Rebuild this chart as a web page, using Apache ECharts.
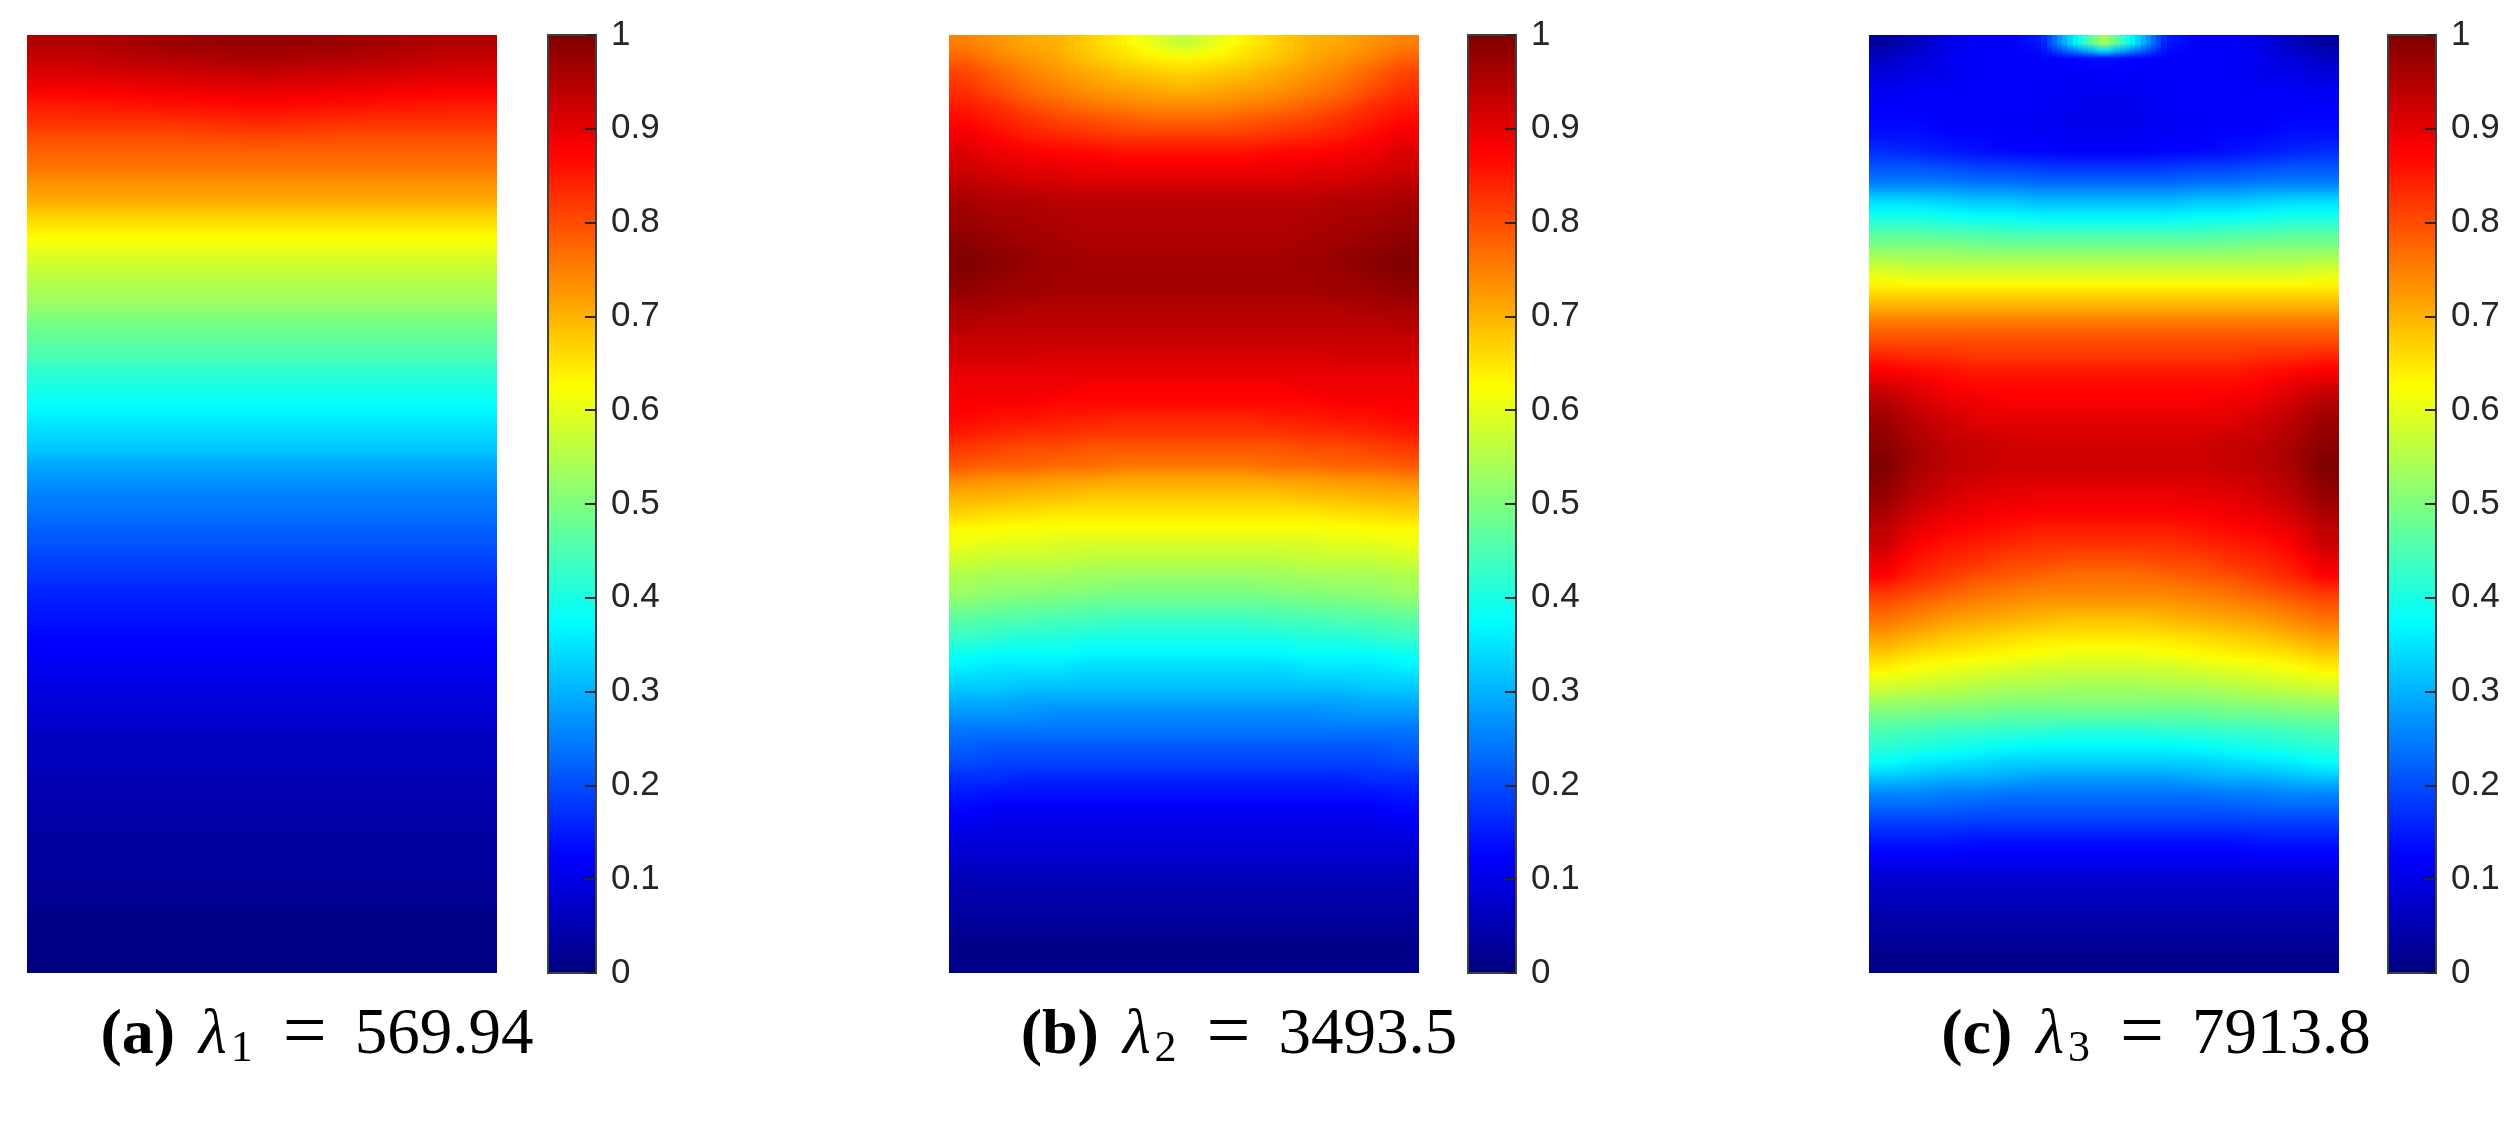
<!DOCTYPE html>
<html>
<head>
<meta charset="utf-8">
<title>Eigenmodes</title>
<style>
  html, body { margin: 0; padding: 0; background: #fff; }
  #chart { width: 2518px; height: 1131px; }
</style>
<script src="https://cdn.jsdelivr.net/npm/echarts@6/dist/echarts.min.js"></script>
</head>
<body>
<div id="chart"></div>
<script>
  // field values in percent of the max, row 0 is the top of the panel
  var modeA = [
    [95,97,98,97,95],[93,95,96,95,93],[91,92,93,92,91],[88,89,90,89,88],[85,86,87,86,85],
    [83,83,84,83,83],[80,80,81,80,80],[78,78,78,78,78],[76,76,76,76,76],[73,73,73,73,73],
    [71,71,71,71,71],[67,67,67,67,67],[64,64,64,64,64],[61,61,61,61,61],[58,58,58,58,58],
    [56,56,56,56,56],[54,54,54,54,54],[52,52,52,52,52],[49,49,49,49,49],[47,47,47,47,47],
    [45,45,45,45,45],[42,42,42,42,42],[40,40,40,40,40],[38,38,38,38,38],[36,36,36,36,36],
    [34,34,34,34,34],[32,32,32,32,32],[29,29,29,29,29],[27,27,27,27,27],[25,25,25,25,25],
    [24,24,24,24,24],[22,22,22,22,22],[21,21,21,21,21],[19,19,19,19,19],[18,18,18,18,18],
    [16,16,16,16,16],[15,15,15,15,15],[14,14,14,14,14],[13,13,13,13,13],[12,12,12,12,12],
    [11,11,11,11,11],[10,10,10,10,10],[9,9,9,9,9],[8,8,8,8,8],[7,7,7,7,7],
    [6,6,6,6,6],[6,6,6,6,6],[5,5,5,5,5],[5,5,5,5,5],[4,4,4,4,4],
    [4,4,4,4,4],[3,3,3,3,3],[3,3,3,3,3],[3,3,3,3,3],[2,2,2,2,2],
    [2,2,2,2,2],[1,1,1,1,1],[1,1,1,1,1],[1,1,1,1,1],[0,0,0,0,0]
  ];
  var modeB = [
    [75,73,71,70,67,64,60,56,60,64,67,70,71,73,75],
    [78,75,73,71,68,66,64,63,64,66,68,71,73,75,78],
    [81,78,75,73,71,69,68,67,68,69,71,73,75,78,81],
    [83,80,77,75,73,72,71,70,71,72,73,75,77,80,83],
    [85,83,80,78,76,75,74,74,74,75,76,78,80,83,85],
    [87,85,83,81,80,79,78,78,78,79,80,81,83,85,87],
    [89,87,85,84,83,82,82,82,82,82,83,84,85,87,89],
    [91,89,88,87,87,86,86,86,86,86,87,87,88,89,91],
    [92,91,90,90,89,89,89,89,89,89,89,90,90,91,92],
    [94,93,92,92,91,91,91,91,91,91,91,92,92,93,94],
    [96,95,95,94,94,94,94,94,94,94,94,94,95,95,96],
    [97,96,96,95,95,95,95,95,95,95,95,95,96,96,97],
    [98,97,96,96,95,95,95,95,95,95,95,96,96,97,98],
    [99,98,97,96,96,96,96,96,96,96,96,96,97,98,99],
    [100,99,98,97,96,96,96,96,96,96,96,97,98,99,100],
    [99,98,97,97,97,97,97,97,97,97,97,97,97,98,99],
    [98,97,97,96,96,96,96,96,96,96,96,96,97,97,98],
    [96,96,95,95,95,95,95,95,95,95,95,95,95,96,96],
    [95,94,94,94,94,94,94,94,94,94,94,94,94,94,95],
    [93,93,93,93,93,93,93,93,93,93,93,93,93,93,93],
    [92,92,92,91,91,91,91,91,91,91,91,91,92,92,92],
    [90,90,90,90,90,90,90,90,90,90,90,90,90,90,90],
    [89,89,89,89,88,88,88,88,88,88,88,89,89,89,89],
    [88,88,88,87,87,87,87,87,87,87,87,87,88,88,88],
    [87,86,86,85,85,84,84,84,84,84,85,85,86,86,87],
    [85,84,83,83,82,82,82,82,82,82,82,83,83,84,85],
    [82,81,80,80,79,79,79,79,79,79,79,80,80,81,82],
    [79,78,78,77,77,76,76,76,76,76,77,77,78,78,79],
    [74,73,73,72,72,71,71,71,71,71,72,72,73,73,74],
    [70,70,69,69,68,68,68,68,68,68,68,69,69,70,70],
    [67,66,66,65,65,65,65,65,65,65,65,65,66,66,67],
    [63,63,62,62,62,62,62,62,62,62,62,62,62,63,63],
    [61,60,60,59,59,59,59,59,59,59,59,59,60,60,61],
    [58,57,57,57,56,56,56,56,56,56,56,57,57,57,58],
    [55,54,54,54,53,53,53,53,53,53,53,54,54,54,55],
    [53,52,52,51,51,50,50,50,50,50,51,51,52,52,53],
    [50,49,48,48,47,47,47,47,47,47,47,48,48,49,50],
    [46,45,45,44,44,43,43,43,43,43,44,44,45,45,46],
    [43,42,41,41,40,40,40,40,40,40,40,41,41,42,43],
    [39,38,38,38,37,37,37,37,37,37,37,38,38,38,39],
    [36,35,35,35,34,34,34,34,34,34,34,35,35,35,36],
    [33,33,32,32,32,32,32,32,32,32,32,32,32,33,33],
    [30,30,29,29,29,29,29,29,29,29,29,29,29,30,30],
    [27,27,27,26,26,26,26,26,26,26,26,26,27,27,27],
    [24,24,24,24,24,24,24,24,24,24,24,24,24,24,24],
    [22,21,21,21,21,21,21,21,21,21,21,21,21,21,22],
    [20,19,19,19,19,19,19,19,19,19,19,19,19,19,20],
    [17,17,16,16,16,16,16,16,16,16,16,16,16,17,17],
    [15,14,14,14,14,14,14,14,14,14,14,14,14,14,15],
    [13,12,12,12,12,12,12,12,12,12,12,12,12,12,13],
    [11,10,10,10,10,10,10,10,10,10,10,10,10,10,11],
    [9,9,9,9,9,9,9,9,9,9,9,9,9,9,9],
    [8,8,8,8,8,8,8,8,8,8,8,8,8,8,8],
    [6,6,6,6,6,6,6,6,6,6,6,6,6,6,6],
    [5,5,5,5,5,5,5,5,5,5,5,5,5,5,5],
    [4,4,4,4,4,4,4,4,4,4,4,4,4,4,4],
    [3,3,3,3,3,3,3,3,3,3,3,3,3,3,3],
    [2,2,2,2,2,2,2,2,2,2,2,2,2,2,2],
    [1,1,1,1,1,1,1,1,1,1,1,1,1,1,1],
    [1,1,1,1,1,1,1,1,1,1,1,1,1,1,1]
  ];
  var modeC = [
    [3,6,10,12,12,15,35,55,35,15,12,12,10,6,3],
    [7,9,11,12,12,12,13,14,13,12,12,12,11,9,7],
    [9,10,11,12,12,12,12,12,12,12,12,12,11,10,9],
    [11,12,12,12,12,12,11,11,11,12,12,12,12,12,11],
    [12,12,12,12,12,12,11,11,11,12,12,12,12,12,12],
    [13,13,12,12,12,11,11,11,11,11,12,12,12,13,13],
    [14,14,13,13,12,12,11,11,11,12,12,13,13,14,14],
    [17,16,15,14,13,13,12,12,12,13,13,14,15,16,17],
    [21,21,20,19,19,18,18,18,18,18,19,19,20,21,21],
    [25,25,25,24,24,23,23,23,23,23,24,24,25,25,25],
    [33,33,32,31,31,30,30,30,30,30,31,31,32,33,33],
    [39,39,38,37,37,36,36,36,36,36,37,37,38,39,39],
    [45,45,44,44,43,43,43,43,43,43,43,44,44,45,45],
    [50,50,50,49,49,49,49,49,49,49,49,49,50,50,50],
    [56,55,55,55,55,55,55,55,55,55,55,55,55,55,56],
    [61,60,60,60,60,60,60,60,60,60,60,60,60,60,61],
    [66,66,66,66,66,66,66,66,66,66,66,66,66,66,66],
    [71,71,71,71,71,71,71,71,71,71,71,71,71,71,71],
    [76,76,76,76,76,76,76,76,76,76,76,76,76,76,76],
    [80,80,80,80,80,80,80,80,80,80,80,80,80,80,80],
    [84,83,83,82,82,82,82,82,82,82,82,82,83,83,84],
    [88,87,86,85,85,85,85,85,85,85,85,85,86,87,88],
    [92,90,88,87,87,87,87,87,87,87,87,87,88,90,92],
    [95,92,90,89,88,88,88,88,88,88,88,89,90,92,95],
    [97,94,92,90,90,90,90,90,90,90,90,90,92,94,97],
    [98,95,93,92,91,91,91,91,91,91,91,92,93,95,98],
    [99,96,94,93,92,92,92,92,92,92,92,93,94,96,99],
    [100,96,94,93,92,92,92,92,92,92,92,93,94,96,100],
    [99,95,93,92,91,91,91,91,91,91,91,92,93,95,99],
    [98,94,92,90,90,89,89,89,89,89,90,90,92,94,98],
    [96,92,90,89,88,88,88,88,88,88,88,89,90,92,96],
    [94,90,88,87,86,85,85,85,85,85,86,87,88,90,94],
    [93,88,86,85,84,83,83,83,83,83,84,85,86,88,93],
    [90,86,84,83,81,81,80,80,80,81,81,83,84,86,90],
    [88,84,82,80,79,78,77,77,77,78,79,80,82,84,88],
    [83,81,79,77,76,75,75,75,75,75,76,77,79,81,83],
    [79,77,75,74,73,72,72,72,72,72,73,74,75,77,79],
    [76,74,72,71,70,69,68,68,68,69,70,71,72,74,76],
    [72,70,68,67,66,65,65,65,65,65,66,67,68,70,72],
    [68,66,65,64,63,62,61,61,61,62,63,64,65,66,68],
    [64,62,61,60,59,58,58,58,58,58,59,60,61,62,64],
    [59,58,57,56,55,55,54,54,54,55,55,56,57,58,59],
    [54,53,53,52,51,51,51,51,51,51,51,52,53,53,54],
    [49,49,48,48,47,47,47,47,47,47,47,48,48,49,49],
    [45,44,43,43,42,42,41,41,41,42,42,43,43,44,45],
    [42,41,40,39,38,37,37,37,37,37,38,39,40,41,42],
    [38,36,35,34,33,33,33,33,33,33,33,34,35,36,38],
    [32,31,30,30,29,28,28,28,28,28,29,30,30,31,32],
    [26,26,25,25,24,24,24,24,24,24,24,25,25,26,26],
    [22,22,22,21,21,21,21,21,21,21,21,21,22,22,22],
    [18,18,18,18,18,18,18,18,18,18,18,18,18,18,18],
    [15,15,15,14,14,14,14,14,14,14,14,14,15,15,15],
    [12,12,12,12,12,12,12,12,12,12,12,12,12,12,12],
    [9,9,9,9,9,9,9,9,9,9,9,9,9,9,9],
    [7,7,7,7,7,7,7,7,7,7,7,7,7,7,7],
    [6,6,6,6,6,6,6,6,6,6,6,6,6,6,6],
    [4,4,4,4,4,4,4,4,4,4,4,4,4,4,4],
    [3,3,3,3,3,3,3,3,3,3,3,3,3,3,3],
    [2,2,2,2,2,2,2,2,2,2,2,2,2,2,2],
    [1,1,1,1,1,1,1,1,1,1,1,1,1,1,1]
  ];

  var panelLefts = [27, 949, 1869];
  var barLefts = [548, 1468, 2388];
  var captionCenters = [317, 1239, 2156];
  var captionTags = ['(a)', '(b)', '(c)'];
  var captionSubs = ['1', '2', '3'];
  var captionValues = ['569.94', '3493.5', '7913.8'];
  var jet = ['#00007f', '#0000ff', '#007fff', '#00ffff', '#7fff7f', '#ffff00', '#ff7f00', '#ff0000', '#7f0000'];

  var top_ = 35, panelW = 470, panelH = 938, barW = 48;
  var STRIPS = 6;

  function toCells(rows) {
    var cells = [];
    rows.forEach(function(row, y) {
      row.forEach(function(v, x) {
        cells.push([x, y, v / 100]);
      });
    });
    return cells;
  }
  function indexes(n) {
    var out = [];
    for (var i = 0; i < n; i++) out.push(i);
    return out;
  }
  // colour of the field between cell centres, so the cells shade like the interpolated surface
  function shade(rows, x, y) {
    var lastX = rows[0].length - 1, lastY = rows.length - 1;
    x = Math.max(0, Math.min(lastX, x));
    y = Math.max(0, Math.min(lastY, y));
    var x0 = Math.floor(x), y0 = Math.floor(y);
    var x1 = Math.min(lastX, x0 + 1), y1 = Math.min(lastY, y0 + 1);
    var fx = x - x0, fy = y - y0;
    var top = rows[y0][x0] * (1 - fx) + rows[y0][x1] * fx;
    var bot = rows[y1][x0] * (1 - fx) + rows[y1][x1] * fx;
    return echarts.color.lerp((top * (1 - fy) + bot * fy) / 100, jet);
  }
  function cellRenderer(rows) {
    return function(params, api) {
      var cx = api.value(0), cy = api.value(1);
      var p = api.coord([cx, cy]);
      var s = api.size([1, 1]);
      var y0 = Math.round(p[1] - s[1] / 2), y1 = Math.round(p[1] + s[1] / 2);
      var strips = [];
      for (var k = 0; k < STRIPS; k++) {
        var x0 = Math.round(p[0] - s[0] / 2 + s[0] * k / STRIPS);
        var x1 = Math.round(p[0] - s[0] / 2 + s[0] * (k + 1) / STRIPS);
        var u = cx - 0.5 + (k + 0.5) / STRIPS;
        strips.push({
          type: 'rect',
          shape: {x: x0, y: y0, width: x1 - x0, height: y1 - y0},
          style: {
            fill: new echarts.graphic.LinearGradient(0, 0, 0, 1, [
              {offset: 0, color: shade(rows, u, cy - 0.5)},
              {offset: 0.5, color: shade(rows, u, cy)},
              {offset: 1, color: shade(rows, u, cy + 0.5)}
            ])
          }
        });
      }
      return {type: 'group', children: strips, silent: true};
    };
  }

  var grids = [], xAxes = [], yAxes = [], series = [], maps = [], captions = [];
  [modeA, modeB, modeC].forEach(function(mode, i) {
    // heat panel
    grids.push({left: panelLefts[i], top: top_, width: panelW, height: panelH});
    xAxes.push({type: 'category', gridIndex: grids.length - 1, show: false, data: indexes(mode[0].length)});
    yAxes.push({type: 'category', gridIndex: grids.length - 1, show: false, inverse: true, data: indexes(mode.length)});
    series.push({
      type: 'custom',
      xAxisIndex: xAxes.length - 1,
      yAxisIndex: yAxes.length - 1,
      data: toCells(mode),
      encode: {x: 0, y: 1},
      renderItem: cellRenderer(mode),
      silent: true,
      progressive: 0
    });
    maps.push({
      type: 'continuous',
      seriesIndex: i,
      dimension: 2,
      min: 0,
      max: 1,
      calculable: false,
      hoverLink: false,
      left: barLefts[i],
      top: top_,
      padding: 0,
      itemWidth: barW,
      itemHeight: panelH,
      text: null,
      z: 0,
      inRange: {color: jet}
    });
    // colour bar frame, ticks and labels
    grids.push({
      left: barLefts[i], top: top_, width: barW, height: panelH,
      show: true, backgroundColor: 'transparent', borderColor: '#404040', borderWidth: 2, z: 5
    });
    xAxes.push({type: 'value', gridIndex: grids.length - 1, show: false, min: 0, max: 1});
    yAxes.push({
      type: 'value',
      gridIndex: grids.length - 1,
      position: 'right',
      min: 0,
      max: 1,
      interval: 0.1,
      z: 10,
      splitLine: {show: false},
      axisLine: {show: false, onZero: false},
      axisTick: {show: true, inside: true, length: 11, lineStyle: {color: '#262626', width: 2}},
      axisLabel: {
        color: '#262626', fontFamily: 'Liberation Sans', fontSize: 35, margin: 15, hideOverlap: false
      }
    });
    captions.push({
      type: 'text',
      x: captionCenters[i],
      y: 1036,
      style: {
        text: '{b|' + captionTags[i] + '}{i|λ}{s|' + captionSubs[i] + '}{e|=}{n|' + captionValues[i] + '}',
        align: 'center',
        verticalAlign: 'middle',
        rich: {
          b: {fontFamily: 'Liberation Serif', fontWeight: 'bold', fontSize: 64, fill: '#000', lineHeight: 76, padding: [0, 24, 0, 0]},
          i: {fontFamily: 'Liberation Serif', fontStyle: 'italic', fontSize: 64, fill: '#000', lineHeight: 76},
          s: {fontFamily: 'Liberation Serif', fontSize: 44, fill: '#000', lineHeight: 76, padding: [26, 0, 0, 4]},
          e: {fontFamily: 'Liberation Serif', fontSize: 78, fill: '#000', lineHeight: 76, padding: [0, 28, 0, 30]},
          n: {fontFamily: 'Liberation Serif', fontSize: 65, fill: '#000', lineHeight: 76}
        }
      }
    });
  });

  var chart = echarts.init(document.getElementById('chart'), null, {renderer: 'canvas'});
  chart.setOption({
    animation: false,
    backgroundColor: '#fff',
    tooltip: {show: false},
    grid: grids,
    xAxis: xAxes,
    yAxis: yAxes,
    visualMap: maps,
    series: series,
    graphic: captions
  });
</script>
</body>
</html>
